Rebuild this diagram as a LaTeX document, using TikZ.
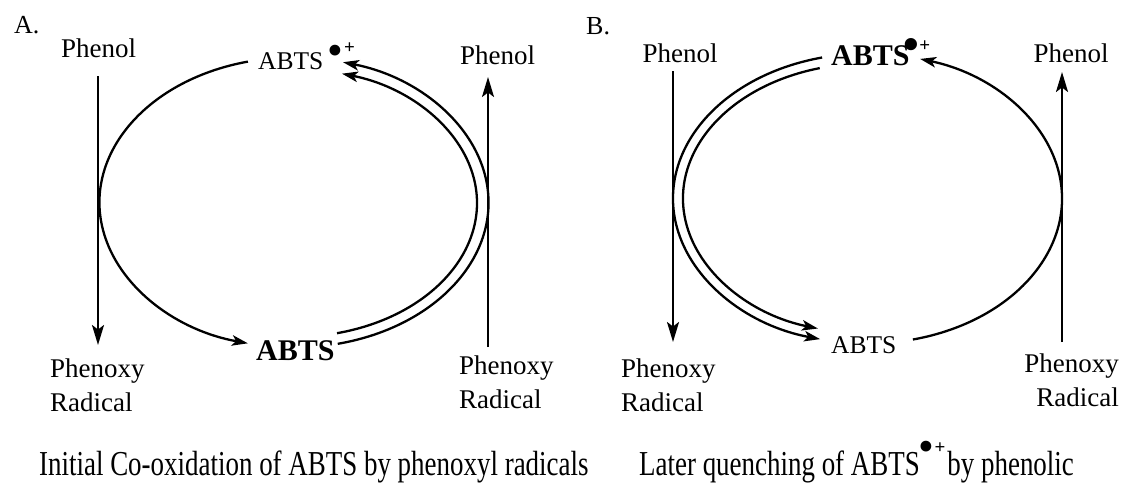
\documentclass[tikz,border=0pt]{standalone}
\usepackage{graphicx}
\usepackage{fontspec}
\setmainfont{Liberation Serif}
\usetikzlibrary{arrows.meta}
\begin{document}
\begin{tikzpicture}[x=1pt,y=-1pt,line width=2.3pt,
  lbl/.style={font=\fontsize{27}{34}\selectfont,inner sep=0pt},
  panel/.style={font=\fontsize{26}{30}\selectfont,inner sep=0pt,anchor=base west},
  abts/.style={font=\fontsize{25.5}{30}\selectfont,inner sep=0pt,anchor=base west},
  abtsb/.style={font=\fontsize{30}{34}\selectfont\bfseries,inner sep=0pt,anchor=base west},
  captext/.style={font=\fontsize{35}{40}\selectfont,inner sep=0pt,anchor=base west},
  varr/.style={-{Stealth[length=20pt,width=12pt,inset=4.5pt]}},
  carr/.style={-{Stealth[length=16pt,width=10.5pt,inset=4pt]}},
  link/.style={line width=2.3pt}]
\useasboundingbox (0,0) rectangle (1123,483);
\newcommand{\bigdot}{{\fontsize{45}{45}\selectfont\textbullet}}
\newcommand{\smallplus}{{\fontsize{19}{19}\selectfont\bfseries +}}

% ---------------- Panel A ----------------
\node[panel] (labA) at (13,33) {A.};
\node[lbl,anchor=base] (phAL) at (98.5,57) {Phenol};
\node[lbl,anchor=north west,align=left] (pxAL) at (49,357.5) {Phenoxy\\Radical};
\node[lbl,anchor=base] (phAR) at (497.5,64) {Phenol};
\node[lbl,anchor=north west,align=left] (pxAR) at (458,355) {Phenoxy\\Radical};
\node[abts] (topA) at (257,69) {ABTS\hspace{4.5pt}\raisebox{4pt}{\bigdot}\hspace{0.5pt}\raisebox{16pt}{\smallplus}};
\node[abtsb] (botA) at (255,360) {ABTS};

\coordinate (aL0) at (247.9,61.6);
\coordinate (aO0) at (337.75,343.8);
\coordinate (aI0) at (337.0,333.2);
\draw[link,carr] (aL0) arc[start angle=256.3,end angle=103.7,x radius=194.5,y radius=145];
\draw[link,carr] (aO0) arc[start angle=77,end angle=-75.4,x radius=194.5,y radius=145];
\draw[link,carr] (aI0) arc[start angle=76.4,end angle=-74.8,x radius=183,y radius=134];

\coordinate (vAL0) at (98,76);
\coordinate (vAL1) at (98,345);
\coordinate (vAR0) at (488,347);
\coordinate (vAR1) at (488,77);
\draw[link,varr] (vAL0) -- (vAL1);
\draw[link,varr] (vAR0) -- (vAR1);

% ---------------- Panel B ----------------
\node[panel] (labB) at (585,34) {B.};
\node[lbl,anchor=base] (phBL) at (680,62) {Phenol};
\node[lbl,anchor=north west,align=left] (pxBL) at (620,358) {Phenoxy\\Radical};
\node[lbl,anchor=base] (phBR) at (1071,62) {Phenol};
\node[lbl,anchor=north east,align=right] (pxBR) at (1120,353) {Phenoxy\\Radical};
\node[abtsb] (topB) at (830,65) {ABTS\kern-6.5pt\raisebox{6pt}{\bigdot}\hspace{0.5pt}\raisebox{14pt}{\smallplus}};
\node[abts] (botB) at (830,353) {ABTS};

\coordinate (bO0) at (822.1,57.5);
\coordinate (bI0) at (819.75,68.1);
\coordinate (bR0) at (912.9,339.5);
\draw[link,carr] (bO0) arc[start angle=256.5,end angle=104.1,x radius=194.5,y radius=145];
\draw[link,carr] (bI0) arc[start angle=255,end angle=105.6,x radius=184.5,y radius=135];
\draw[link,carr] (bR0) arc[start angle=76.5,end angle=-74.3,x radius=194.5,y radius=145];

\coordinate (vBL0) at (673,71);
\coordinate (vBL1) at (673,342);
\coordinate (vBR0) at (1062,342);
\coordinate (vBR1) at (1062,72);
\draw[link,varr] (vBL0) -- (vBL1);
\draw[link,varr] (vBR0) -- (vBR1);

% ---------------- Captions ----------------
\node[captext] (capA) at (38,475) {\scalebox{0.77}[1]{Initial Co-oxidation of ABTS by phenoxyl radicals}};
\node[captext] (capB) at (638,475) {\scalebox{0.77}[1]{Later quenching of ABTS}\kern-1pt\raisebox{14pt}{\bigdot}\raisebox{22pt}{\smallplus}\hspace{2pt}\scalebox{0.77}[1]{by phenolic}};
\end{tikzpicture}
\end{document}
